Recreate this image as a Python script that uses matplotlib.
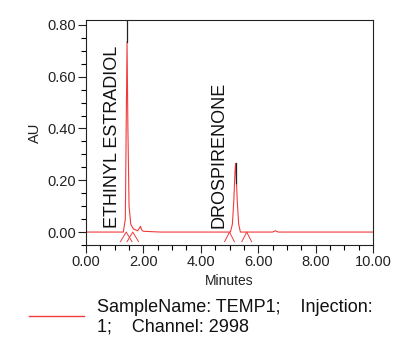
import matplotlib
matplotlib.use("Agg")
import matplotlib.pyplot as plt
from matplotlib.ticker import MultipleLocator, FormatStrFormatter

plt.rcParams['font.family'] = ['Liberation Sans', 'DejaVu Sans']

# Chromatogram trace (minutes, AU)
trace_t = [0.00, 1.30, 1.37, 1.40, 1.43, 1.46, 1.50, 1.56, 1.65, 1.80, 1.86, 1.90,
           1.94, 2.00, 2.60, 5.03, 5.10, 5.15, 5.19, 5.21, 5.23, 5.27, 5.32, 5.38,
           6.50, 6.60, 6.70, 10.00]
trace_au = [0.000, 0.000, 0.050, 0.400, 0.735, 0.400, 0.100, 0.030, 0.012, 0.005, 0.015, 0.022,
            0.008, 0.003, 0.000, 0.000, 0.030, 0.120, 0.230, 0.265, 0.230, 0.120, 0.030, 0.000,
            0.000, 0.005, 0.000, 0.000]

# Peak apex markers (black): time, from, to
peak_names = ["ETHINYL ESTRADIOL", "DROSPIRENONE"]
peak_rt = [1.43, 5.21]
marker_low = [0.735, 0.19]
marker_high = [0.82, 0.265]
label_t = [0.94, 4.64]

# Integration start/end triangle markers (apex times)
tri_apex = [1.40, 1.63, 5.00, 5.60]
tri_half = [0.20, 0.20, 0.17, 0.17]

red = '#f03c3c'
fig = plt.figure(figsize=(4.0, 3.37), dpi=100)
ax = fig.add_axes([0.215, 1 - 245 / 337, 0.7175, (245 - 20) / 337])

ax.plot(trace_t, trace_au, color=red, lw=0.8)
for t, h in zip(tri_apex, tri_half):
    ax.plot([t - h, t, t + h], [-0.037, 0.0, -0.037], color=red, lw=0.7)
for t, lo, hi in zip(peak_rt, marker_low, marker_high):
    ax.plot([t, t], [lo, hi], color='#222222', lw=0.9)
for name, t in zip(peak_names, label_t):
    ax.text(t, 0.015, name, rotation=90, ha='center', va='bottom', fontsize=13, color='#111111')

ax.set_xlim(0, 10)
ax.set_ylim(-0.05, 0.819)
ax.xaxis.set_major_locator(MultipleLocator(2))
ax.xaxis.set_minor_locator(MultipleLocator(0.5))
ax.yaxis.set_major_locator(MultipleLocator(0.2))
ax.yaxis.set_minor_locator(MultipleLocator(0.05))
ax.xaxis.set_major_formatter(FormatStrFormatter('%.2f'))
ax.yaxis.set_major_formatter(FormatStrFormatter('%.2f'))
ax.tick_params(which='major', length=6, width=0.8, labelsize=10.5, pad=1, colors='#222222')
ax.tick_params(which='minor', length=3.5, width=0.8)
for s in ax.spines.values():
    s.set_linewidth(0.8)
    s.set_color('#222222')

ax.set_xlabel('Minutes', fontsize=10, labelpad=4, color='#222222')
ax.set_ylabel('AU', fontsize=10.5, labelpad=4, color='#222222')

# Legend
fig.add_artist(plt.Line2D([29 / 400, 84 / 400], [1 - 316 / 337, 1 - 316 / 337], color=red, lw=1.0))
fig.text(97 / 400, 1 - 308 / 337, 'SampleName: TEMP1;    Injection:', fontsize=13,
         va='center', ha='left', color='#111111')
fig.text(97 / 400, 1 - 327 / 337, '1;    Channel: 2998', fontsize=13,
         va='center', ha='left', color='#111111')

fig.savefig('out.png', dpi=100)
